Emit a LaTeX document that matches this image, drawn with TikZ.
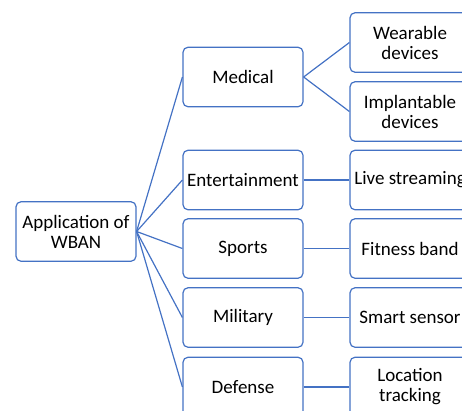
\documentclass[tikz,border=0pt]{standalone}
\usepackage{fontspec}
\setmainfont{Carlito}
\definecolor{boxblue}{HTML}{4472C4}
\begin{document}
\begin{tikzpicture}[x=1pt,y=-1pt,
  box/.style={draw=boxblue,line width=1.2pt,rounded corners=5pt,fill=white,
    minimum width=120pt,minimum height=59.5pt,inner sep=0pt,align=center,
    font=\fontsize{19}{20}\selectfont,text=black},
  link/.style={draw=boxblue,line width=1.2pt}]
\useasboundingbox (0,0) rectangle (462,410);
\clip (0,0) rectangle (462,410);
\node[box] (root) at (76,231.5) {Application of\\WBAN};
\node[box] (med) at (243,77) {Medical};
\node[box] (ent) at (243,180) {Entertainment};
\node[box] (spo) at (243,248.5) {Sports};
\node[box] (mil) at (243,317.5) {Military};
\node[box] (def) at (243,387) {Defense};
\node[box] (wea) at (410,42.5) {Wearable\\devices};
\node[box] (imp) at (410,111.5) {Implantable\\devices};
\node[box] (liv) at (410,180) {Live streaming};
\node[box] (fit) at (410,248.5) {Fitness band};
\node[box] (sma) at (410,317.5) {Smart sensor};
\node[box] (loc) at (410,387) {Location\\tracking};
\foreach \t in {med,ent,spo,mil,def}
  \draw[link] (root.east) -- (\t.west);
\draw[link] (med.east) -- (wea.west);
\draw[link] (med.east) -- (imp.west);
\draw[link] (ent.east) -- (liv.west);
\draw[link] (spo.east) -- (fit.west);
\draw[link] (mil.east) -- (sma.west);
\draw[link] (def.east) -- (loc.west);
\end{tikzpicture}
\end{document}
